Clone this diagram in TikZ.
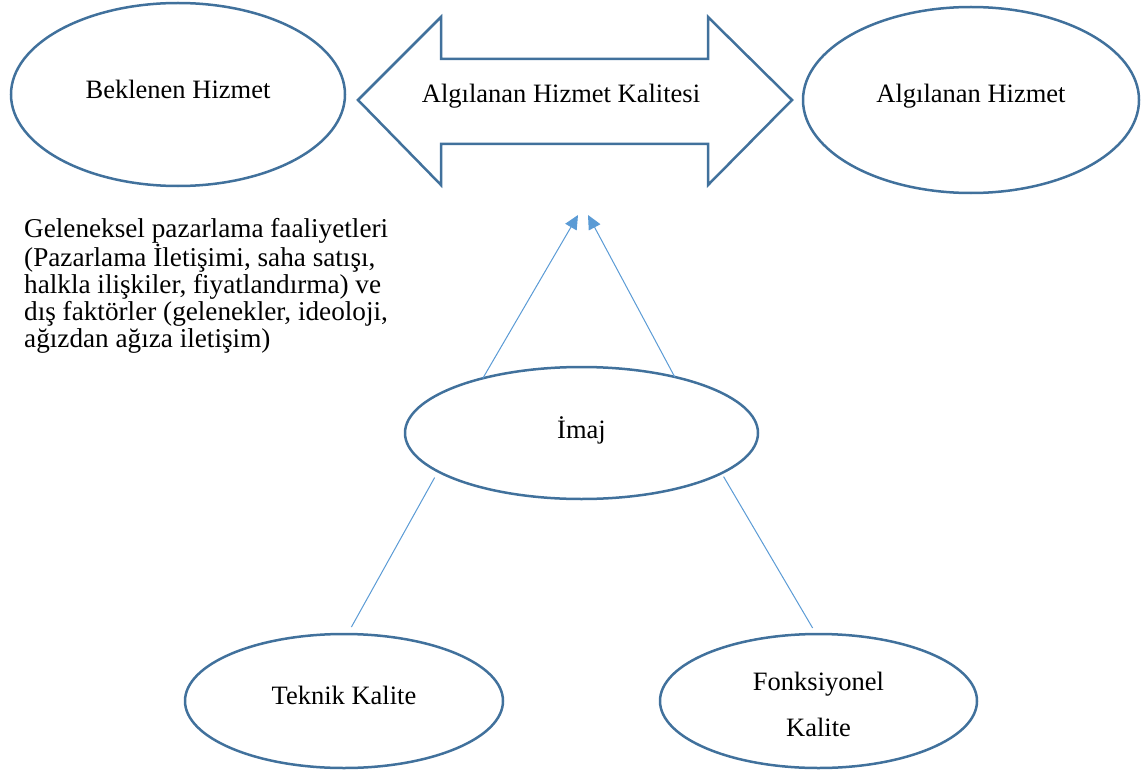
\documentclass[tikz,border=0pt]{standalone}
\usepackage{fontspec}
\setmainfont{Liberation Serif}
\usetikzlibrary{shapes.geometric,arrows.meta}
\definecolor{rimblue}{HTML}{41719C}
\definecolor{linkblue}{HTML}{5B9BD5}
\begin{document}
\begin{tikzpicture}[x=1pt,y=-1pt,
  bodytext/.style={font=\fontsize{26.5}{27}\selectfont},
  oval/.style={ellipse, draw=rimblue, line width=2.5pt, inner sep=0pt,
    outer sep=0pt, bodytext, text depth=11pt},
  connector/.style={draw=linkblue, line width=1pt},
  headed/.style={-{Triangle[length=14pt,width=13pt]}}
]
\useasboundingbox (0,0) rectangle (1143,773);

% top row: expectation and perception
\node[oval, minimum width=334pt, minimum height=183pt] (expected) at (178,94.5) {Beklenen Hizmet};
\node[oval, minimum width=336pt, minimum height=186pt, text depth=13pt] (perceived) at (971,100) {Algılanan Hizmet};

% double-headed block arrow between them
\draw[rimblue, line width=2.5pt, miter limit=10]
  (358,100) -- (441,17) -- (441,59) -- (708,59) -- (708,17) -- (792,100)
  -- (708,185) -- (708,144) -- (441,144) -- (441,185) -- cycle;
\node[bodytext, inner sep=0pt, text depth=11pt] (quality) at (561,99) {Algılanan Hizmet Kalitesi};

% external influences
\node[font=\fontsize{27.2}{27}\selectfont, anchor=north west, align=left, inner sep=0pt] (factors) at (24,218)
  {Geleneksel pazarlama faaliyetleri\\
   (Pazarlama İletişimi, saha satışı,\\
   halkla ilişkiler, fiyatlandırma) ve\\
   dış faktörler (gelenekler, ideoloji,\\
   ağızdan ağıza iletişim)};

% image and its two components
\node[oval, minimum width=353pt, minimum height=132pt] (image) at (581.5,433) {İmaj};
\node[oval, minimum width=318pt, minimum height=134pt, text depth=12pt] (technical) at (344,701) {Teknik Kalite};
\node[oval, minimum width=317pt, minimum height=134pt, align=center,
      font=\fontsize{26.5}{46}\selectfont, text depth=0pt] (functional) at (818.5,701)
  {\rule{0pt}{24.5pt}Fonksiyonel\\Kalite};

% connectors
\coordinate (tipL) at (578,215);
\coordinate (tipR) at (588,215);
\draw[connector, headed] (image.151) -- (tipL);
\draw[connector, headed] (image.31) -- (tipR);
\draw[connector, shorten <=7pt, shorten >=8pt] (image.195) -- (technical.87);
\draw[connector, shorten <=4pt, shorten >=7pt] (image.344) -- (functional.92);
\end{tikzpicture}
\end{document}
